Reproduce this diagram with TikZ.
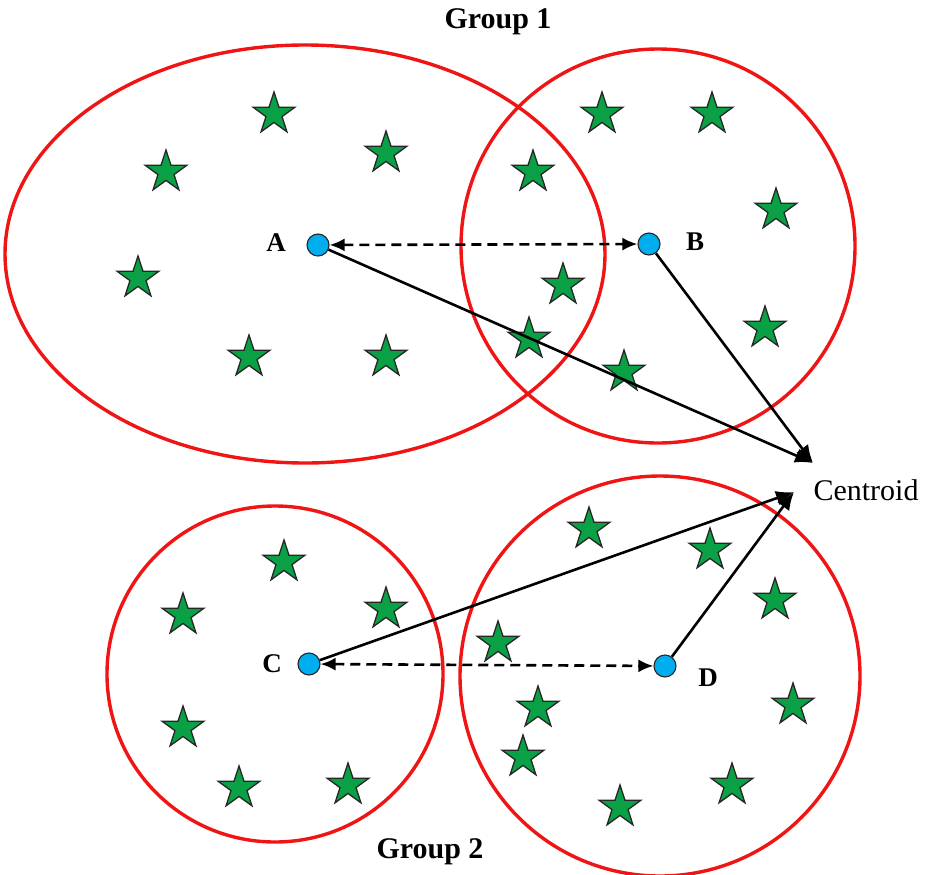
\documentclass[tikz,border=0pt]{standalone}
\usepackage{fontspec}
\setmainfont{Liberation Serif}
\usetikzlibrary{arrows.meta,
                shapes.geometric}

\definecolor{ringred}{RGB}{240,20,20}
\definecolor{stargreen}{RGB}{10,160,70}
\definecolor{dotblue}{RGB}{0,174,239}

\begin{document}
\begin{tikzpicture}[x=1pt, y=-1pt,
    group/.style = {draw=ringred, line width=3.4pt},
    member/.style = {star, star points=5, star point ratio=2.6, minimum size=44pt,
                     inner sep=0pt, draw=black!85, line width=1.3pt, fill=stargreen},
    seed/.style = {circle, minimum size=22pt, inner sep=0pt, draw=black!85,
                   line width=1.1pt, fill=dotblue},
    pull/.style = {line width=2.6pt, -{Latex[length=18pt, width=15pt]}},
    pair/.style = {line width=2.6pt, dash pattern=on 10pt off 6pt,
                   {Latex[length=15pt, width=13pt]}-{Latex[length=15pt, width=13pt]}},
    lbl/.style = {font=\fontsize{27}{30}\selectfont\bfseries},
    title/.style = {font=\fontsize{30}{36}\selectfont\bfseries}]
\useasboundingbox (0,0) rectangle (934,875);

% clusters
\draw[group] (305,254) ellipse [x radius=300, y radius=209];
\draw[group] (658,246) circle [radius=197];
\draw[group] (275,674) circle [radius=168];
\draw[group] (660,676) circle [radius=200];

% members
\foreach \x/\y [count=\n] in {274/114, 166/172, 386/153, 138/278, 249/357, 386/357,
    533/172, 602/114, 712/114, 776/210, 563/285, 529/339, 624/372, 765/328,
    284/562, 183/615, 386/609, 183/728, 239/788, 348/785,
    589/529, 710/550, 775/600, 498/643, 538/708, 523/757, 793/705, 620/807, 732/785} {
    \node (s\n) [member] at (\x,\y) {};
}

% seeds
\node (A) [seed] at (318,245) {};
\node (B) [seed] at (649,244) {};
\node (C) [seed] at (309,664) {};
\node (D) [seed] at (665,666) {};
\node (labA) [lbl] at (276,243) {A};
\node (labB) [lbl] at (695,242) {B};
\node (labC) [lbl] at (272,664) {C};
\node (labD) [lbl] at (708,678) {D};

% centroid
\coordinate (ctop) at (813,463);
\coordinate (cbot) at (794,492);
\node (cent) [font=\fontsize{30}{36}\selectfont] at (866,490) {Centroid};

\draw[pair] (A) -- (B);
\draw[pair] (C) -- (D);
\draw[pull] (A) -- (ctop);
\draw[pull] (B) -- (ctop);
\draw[pull] (C) -- (cbot);
\draw[pull] (D) -- (cbot);

\node (g1) [title] at (498,22) {Group 1};
\node (g2) [title] at (430,852) {Group 2};
\end{tikzpicture}
\end{document}
